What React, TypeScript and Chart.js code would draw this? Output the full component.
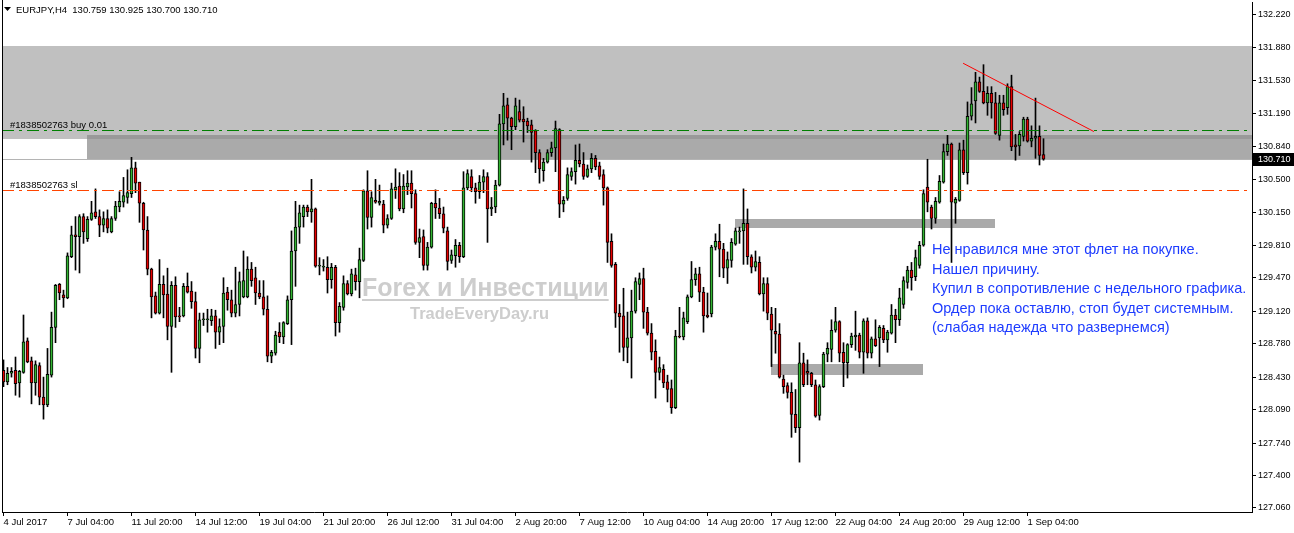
import React, { useEffect, useRef } from 'react';
import { Chart, registerables } from 'chart.js';

Chart.register(...registerables);

// ---------- data (EURJPY H4) ----------
const symbolTitle = 'EURJPY,H4';
const lastQuote = ['130.759', '130.925', '130.700', '130.710'];

const timeLabels = [
  '4 Jul 2017', '7 Jul 04:00', '11 Jul 20:00', '14 Jul 12:00', '19 Jul 04:00', '21 Jul 20:00',
  '26 Jul 12:00', '31 Jul 04:00', '2 Aug 20:00', '7 Aug 12:00', '10 Aug 04:00', '14 Aug 20:00',
  '17 Aug 12:00', '22 Aug 04:00', '24 Aug 20:00', '29 Aug 12:00', '1 Sep 04:00',
];
const barsPerLabel = 16;

const opens = [
  128.50, 128.38, 128.47, 128.50, 128.37, 128.48, 128.81, 128.60, 128.37, 128.55,
  128.22, 128.14, 128.45, 128.95, 129.40, 129.29, 129.26, 129.69, 129.92, 129.90,
  130.11, 129.88, 130.08, 130.16, 130.11, 130.02, 130.09, 129.95, 130.09, 130.21,
  130.26, 130.31, 130.35, 130.62, 130.47, 130.25, 129.97, 129.56, 129.28, 129.10,
  129.40, 129.30, 128.96, 129.39, 129.07, 129.07, 129.38, 129.33, 129.22, 128.73,
  129.03, 129.03, 129.02, 129.07, 128.90, 128.96, 129.32, 129.24, 129.10, 129.19,
  129.27, 129.27, 129.56, 129.47, 129.31, 129.27, 129.14, 128.65, 128.68, 128.90,
  128.85, 128.99, 129.24, 129.75, 130.00, 130.11, 130.21, 130.16, 130.19, 129.59,
  129.58, 129.58, 129.45, 129.58, 129.00, 129.16, 129.41, 129.30, 129.50, 129.43,
  129.65, 130.38, 130.10, 130.28, 130.25, 130.24, 130.02, 130.09, 130.39, 130.43,
  130.19, 130.42, 130.46, 130.35, 129.84, 129.90, 129.60, 129.79, 130.25, 130.20,
  130.14, 129.96, 129.65, 129.70, 129.81, 129.69, 130.41, 130.53, 130.41, 130.37,
  130.47, 130.53, 130.19, 130.21, 130.44, 131.08, 131.28, 131.14, 131.05, 131.21,
  131.13, 131.11, 131.07, 131.01, 130.78, 130.59, 130.68, 130.78, 130.83, 131.02,
  130.24, 130.30, 130.53, 130.58, 130.70, 130.66, 130.53, 130.61, 130.72, 130.64,
  130.55, 130.41, 129.85, 129.61, 129.10, 129.07, 128.74, 128.84, 129.12, 129.40,
  129.46, 129.11, 128.89, 128.70, 128.48, 128.51, 128.38, 128.31, 128.11, 128.86,
  128.85, 129.01, 129.27, 129.45, 129.51, 129.32, 129.08, 129.09, 129.79, 129.85,
  129.77, 129.57, 129.65, 129.82, 129.95, 129.96, 130.04, 129.69, 129.58, 129.63,
  129.30, 129.41, 129.09, 128.91, 128.88, 128.41, 128.34, 128.27, 128.04, 127.90,
  128.58, 128.49, 128.47, 128.35, 128.03, 128.33, 128.67, 128.72, 128.92, 129.01,
  128.69, 128.58, 128.77, 128.85, 128.87, 128.69, 129.02, 128.68, 128.83, 128.84,
  128.94, 128.82, 128.89, 129.08, 129.03, 129.19, 129.42, 129.55, 129.48, 129.60,
  129.81, 130.42, 130.21, 130.09, 130.26, 130.47, 130.79, 130.87, 130.25, 130.28,
  130.81, 130.57, 131.16, 131.32, 131.52, 131.42, 131.30, 131.40, 131.30, 130.96,
  131.30, 131.25, 131.47, 130.86, 130.85, 130.95, 131.13, 130.90, 130.93, 130.95,
  130.759,
];

const highs = [
  128.61, 128.53, 128.53, 128.64, 128.50, 129.08, 128.84, 128.64, 128.60, 128.58,
  128.43, 128.73, 129.11, 129.40, 129.41, 129.34, 129.73, 130.01, 130.11, 130.13,
  130.14, 130.11, 130.27, 130.40, 130.18, 130.16, 130.18, 130.11, 130.27, 130.37,
  130.52, 130.60, 130.73, 130.68, 130.47, 130.26, 130.11, 129.57, 129.32, 129.66,
  129.49, 129.57, 129.43, 129.48, 129.16, 129.41, 129.52, 129.43, 129.32, 129.10,
  129.10, 129.14, 129.14, 129.13, 129.04, 129.47, 129.37, 129.34, 129.58, 129.53,
  129.75, 129.69, 129.63, 129.58, 129.44, 129.44, 129.28, 128.71, 128.91, 129.00,
  129.01, 129.28, 129.96, 130.27, 130.23, 130.23, 130.23, 130.50, 130.20, 129.68,
  129.66, 129.69, 129.62, 129.60, 129.21, 129.49, 129.44, 129.56, 129.57, 129.78,
  130.39, 130.59, 130.37, 130.50, 130.44, 130.28, 130.13, 130.46, 130.61, 130.57,
  130.55, 130.59, 130.59, 130.39, 129.98, 129.97, 129.84, 130.26, 130.39, 130.30,
  130.21, 130.00, 129.76, 129.87, 129.84, 130.58, 130.60, 130.60, 130.46, 130.54,
  130.60, 130.57, 130.31, 130.49, 131.18, 131.40, 131.35, 131.15, 131.35, 131.33,
  131.26, 131.14, 131.12, 131.02, 130.81, 130.72, 130.81, 130.89, 131.11, 131.03,
  130.32, 130.62, 130.62, 130.86, 130.87, 130.78, 130.65, 130.77, 130.75, 130.68,
  130.60, 130.42, 129.93, 129.63, 129.19, 129.36, 129.11, 129.34, 129.47, 129.52,
  129.57, 129.16, 128.99, 128.82, 128.64, 128.56, 128.45, 128.40, 128.92, 129.16,
  129.11, 129.29, 129.64, 129.57, 129.58, 129.37, 129.31, 129.81, 129.93, 130.03,
  129.83, 129.74, 129.88, 129.99, 130.00, 130.40, 130.19, 129.71, 129.75, 129.69,
  129.47, 129.47, 129.16, 129.15, 128.99, 128.45, 128.37, 128.37, 128.30, 128.79,
  128.68, 128.61, 128.48, 128.40, 128.35, 128.69, 128.79, 129.03, 129.16, 129.02,
  128.79, 128.78, 128.89, 129.12, 128.89, 129.04, 129.05, 128.85, 129.03, 128.97,
  128.97, 128.92, 129.19, 129.14, 129.36, 129.48, 129.59, 129.63, 129.76, 129.85,
  130.39, 130.71, 130.23, 130.31, 130.54, 130.87, 130.96, 130.88, 130.31, 130.88,
  130.91, 131.31, 131.46, 131.62, 131.57, 131.70, 131.47, 131.47, 131.41, 131.38,
  131.38, 131.50, 131.59, 130.97, 131.00, 131.15, 131.15, 131.06, 131.35, 131.06,
  130.925,
];

const lows = [
  128.33, 128.35, 128.43, 128.24, 128.22, 128.47, 128.58, 128.15, 128.24, 128.14,
  127.99, 128.12, 128.43, 128.79, 129.24, 129.16, 129.25, 129.68, 129.55, 129.52,
  129.83, 129.85, 130.07, 130.09, 129.90, 129.95, 129.94, 129.94, 130.07, 130.16,
  130.21, 130.25, 130.31, 130.36, 130.05, 129.76, 129.50, 129.05, 129.09, 129.09,
  129.05, 128.82, 128.48, 128.95, 129.01, 129.06, 129.31, 129.15, 128.63, 128.58,
  128.97, 128.90, 128.97, 128.73, 128.77, 128.79, 129.13, 129.06, 129.06, 129.07,
  129.26, 129.26, 129.38, 129.19, 129.25, 129.08, 128.59, 128.58, 128.66, 128.79,
  128.78, 128.98, 128.77, 129.38, 129.83, 130.00, 130.11, 130.05, 129.58, 129.50,
  129.54, 129.31, 129.36, 128.86, 128.90, 129.13, 129.29, 129.28, 129.34, 129.26,
  129.64, 129.98, 130.00, 130.25, 130.23, 129.94, 129.99, 130.08, 130.30, 130.17,
  130.15, 130.34, 130.20, 129.82, 129.68, 129.55, 129.55, 129.78, 130.09, 130.09,
  129.94, 129.55, 129.62, 129.58, 129.63, 129.68, 130.39, 130.37, 130.25, 130.30,
  130.36, 129.84, 130.12, 130.15, 130.43, 130.86, 130.91, 130.81, 131.02, 131.10,
  130.89, 130.99, 130.68, 130.57, 130.46, 130.48, 130.67, 130.74, 130.58, 130.10,
  130.16, 130.28, 130.49, 130.45, 130.63, 130.50, 130.52, 130.57, 130.60, 130.50,
  130.23, 129.63, 129.58, 128.95, 128.69, 128.60, 128.58, 128.42, 129.10, 129.24,
  128.94, 128.87, 128.61, 128.21, 128.40, 128.32, 128.17, 128.05, 128.10, 128.84,
  128.82, 128.99, 129.26, 129.39, 129.22, 128.90, 129.05, 129.06, 129.76, 129.48,
  129.47, 129.41, 129.58, 129.81, 129.83, 129.61, 129.61, 129.52, 129.54, 129.29,
  129.12, 129.03, 128.54, 128.68, 128.42, 128.26, 128.21, 127.80, 127.85, 127.54,
  128.33, 128.35, 128.33, 128.01, 127.98, 128.32, 128.59, 128.59, 128.90, 128.59,
  128.33, 128.42, 128.74, 128.71, 128.63, 128.47, 128.63, 128.63, 128.75, 128.54,
  128.79, 128.69, 128.88, 128.79, 128.97, 129.15, 129.36, 129.34, 129.44, 129.57,
  129.80, 130.16, 129.98, 130.04, 130.25, 130.46, 130.75, 129.63, 130.04, 130.27,
  130.55, 130.45, 131.12, 131.09, 131.41, 131.29, 131.17, 131.14, 130.97, 130.91,
  131.17, 131.18, 130.80, 130.70, 130.75, 130.90, 130.89, 130.84, 130.72, 130.65,
  130.700,
];

const closes = [
  128.38, 128.47, 128.49, 128.36, 128.49, 128.80, 128.59, 128.37, 128.56, 128.22,
  128.14, 128.46, 128.95, 129.39, 129.31, 129.26, 129.70, 129.92, 129.90, 130.11,
  129.95, 130.08, 130.15, 130.11, 130.02, 130.09, 129.99, 130.09, 130.22, 130.27,
  130.33, 130.36, 130.62, 130.46, 130.25, 129.97, 129.56, 129.27, 129.10, 129.40,
  129.29, 128.96, 129.39, 129.06, 129.06, 129.38, 129.32, 129.22, 128.73, 129.03,
  129.04, 129.04, 129.07, 128.90, 128.96, 129.31, 129.24, 129.10, 129.19, 129.43,
  129.44, 129.56, 129.44, 129.31, 129.27, 129.14, 128.65, 128.69, 128.87, 128.85,
  129.00, 129.24, 129.75, 130.00, 130.15, 130.21, 130.16, 130.19, 129.59, 129.60,
  129.59, 129.45, 129.58, 129.00, 129.17, 129.41, 129.30, 129.51, 129.43, 129.66,
  130.38, 130.10, 130.31, 130.26, 130.27, 130.02, 130.09, 130.40, 130.42, 130.19,
  130.43, 130.46, 130.35, 129.84, 129.89, 129.60, 129.79, 130.25, 130.20, 130.14,
  129.99, 129.64, 129.71, 129.81, 129.69, 130.41, 130.56, 130.41, 130.37, 130.47,
  130.53, 130.19, 130.21, 130.44, 131.08, 131.27, 131.14, 131.05, 131.27, 131.12,
  131.10, 131.06, 130.99, 130.78, 130.61, 130.68, 130.78, 130.83, 131.03, 130.24,
  130.28, 130.55, 130.58, 130.70, 130.66, 130.53, 130.61, 130.72, 130.63, 130.53,
  130.41, 129.84, 129.60, 129.10, 129.06, 128.74, 128.84, 129.12, 129.43, 129.46,
  129.11, 128.89, 128.69, 128.48, 128.53, 128.37, 128.30, 128.11, 128.86, 128.85,
  129.05, 129.27, 129.45, 129.51, 129.32, 129.07, 129.06, 129.79, 129.85, 129.77,
  129.57, 129.66, 129.84, 129.96, 129.96, 130.04, 129.69, 129.58, 129.64, 129.30,
  129.41, 129.10, 128.92, 128.88, 128.43, 128.33, 128.27, 128.04, 127.90, 128.58,
  128.35, 128.47, 128.35, 128.02, 128.33, 128.67, 128.73, 128.92, 129.01, 128.68,
  128.58, 128.77, 128.86, 128.87, 128.69, 129.02, 128.68, 128.83, 128.76, 128.95,
  128.82, 128.90, 129.08, 129.03, 129.26, 129.44, 129.55, 129.47, 129.68, 129.81,
  130.35, 130.26, 130.09, 130.27, 130.48, 130.79, 130.87, 130.26, 130.29, 130.81,
  130.57, 131.16, 131.29, 131.52, 131.42, 131.30, 131.40, 131.30, 130.98, 131.30,
  131.23, 131.47, 130.84, 130.84, 130.97, 131.13, 130.90, 130.93, 130.95, 130.75,
  130.710,
];

const priceTicks = [
  132.22, 131.88, 131.53, 131.19, 130.84, 130.5, 130.15, 129.81,
  129.47, 129.12, 128.78, 128.43, 128.09, 127.74, 127.4, 127.06,
];

const orderTicket = '#1838502763';
const orderVolume = '0.01';
const buyPrice = 131.016;
const stopLossPrice = 130.388;
const bidPrice = 130.71;

// chart objects, in bar-index / price units
const zones = [
  { from: null, to: null, high: 131.896, low: 130.922, color: '#c0c0c0' },
  { from: 20.875, to: null, high: 130.964, low: 130.706, color: '#aaaaaa' },
  { from: 182.9, to: 247.9, high: 130.085, low: 129.99, color: '#aaaaaa' },
  { from: 191.9, to: 229.9, high: 128.567, low: 128.452, color: '#aaaaaa' },
];
const trendLine = { from: 239.9, to: 272.6, start: 131.715, end: 131.0 };

const noteLines = [
  'Не нравился мне этот флет на покупке.',
  'Нашел причину.',
  'Купил в сопротивление с недельного графика.',
  'Ордер пока оставлю, стоп будет системным.',
  '(слабая надежда что развернемся)',
];
const watermarkTitle = 'Forex и Инвестиции';
const watermarkSite = 'TradeEveryDay.ru';

// ---------- styles ----------
const FONT = '"Liberation Sans", Arial, sans-serif';
const BULL = '#32b432';
const BEAR = '#e60000';

const overlay = {
  id: 'mt4Overlay',
  beforeDatasetsDraw(chart: any) {
    const { ctx, chartArea: a, scales } = chart;
    const x = scales.x;
    const y = scales.y;
    ctx.save();
    ctx.beginPath();
    ctx.rect(a.left, a.top, a.right - a.left, a.bottom - a.top);
    ctx.clip();

    // watermark
    ctx.fillStyle = '#cdcdcd';
    ctx.textBaseline = 'alphabetic';
    ctx.textAlign = 'left';
    ctx.font = `bold 25px ${FONT}`;
    ctx.fillText(watermarkTitle, 362, 296);
    const w = ctx.measureText(watermarkTitle).width;
    ctx.fillRect(362, 299, w, 2);
    ctx.font = `bold 16.5px ${FONT}`;
    ctx.fillText(watermarkSite, 410, 319);

    const rects = zones.map((z) => {
      const x0 = Math.round(z.from == null ? a.left : x.getPixelForValue(z.from));
      const x1 = Math.round(z.to == null ? a.right : x.getPixelForValue(z.to));
      const y0 = Math.round(y.getPixelForValue(z.high));
      const y1 = Math.round(y.getPixelForValue(z.low));
      return { x0, x1, y0, y1, color: z.color };
    });
    rects.forEach((r) => {
      ctx.fillStyle = r.color;
      ctx.fillRect(r.x0, r.y0, r.x1 - r.x0, r.y1 - r.y0);
    });
    // overlap of the two top zones is darker
    const r0 = rects[0];
    const r1 = rects[1];
    const ox0 = Math.max(r0.x0, r1.x0);
    const ox1 = Math.min(r0.x1, r1.x1);
    const oy0 = Math.max(r0.y0, r1.y0);
    const oy1 = Math.min(r0.y1, r1.y1);
    if (ox1 > ox0 && oy1 > oy0) {
      ctx.fillStyle = '#999999';
      ctx.fillRect(ox0, oy0, ox1 - ox0, oy1 - oy0);
    }

    // bid line
    const by = Math.round(y.getPixelForValue(bidPrice)) + 0.5;
    ctx.strokeStyle = '#b4b4b4';
    ctx.lineWidth = 1;
    ctx.beginPath();
    ctx.moveTo(a.left, by);
    ctx.lineTo(a.right, by);
    ctx.stroke();
    ctx.restore();
  },
  afterDatasetsDraw(chart: any) {
    const { ctx, chartArea: a, scales } = chart;
    const x = scales.x;
    const y = scales.y;
    ctx.save();
    ctx.beginPath();
    ctx.rect(a.left, a.top, a.right - a.left, a.bottom - a.top);
    ctx.clip();
    const hline = (price: number, color: string) => {
      const py = Math.round(y.getPixelForValue(price)) + 0.5;
      ctx.strokeStyle = color;
      ctx.lineWidth = 1;
      ctx.setLineDash([12, 5, 3, 5]);
      ctx.beginPath();
      ctx.moveTo(a.left, py);
      ctx.lineTo(a.right, py);
      ctx.stroke();
      ctx.setLineDash([]);
    };
    hline(buyPrice, '#008000');
    hline(stopLossPrice, '#ff4500');

    // trend line
    ctx.strokeStyle = '#ff0000';
    ctx.lineWidth = 1;
    ctx.beginPath();
    ctx.moveTo(x.getPixelForValue(trendLine.from), y.getPixelForValue(trendLine.start));
    ctx.lineTo(x.getPixelForValue(trendLine.to), y.getPixelForValue(trendLine.end));
    ctx.stroke();

    // order labels
    ctx.fillStyle = '#000';
    ctx.font = `9.5px ${FONT}`;
    ctx.textAlign = 'left';
    ctx.textBaseline = 'alphabetic';
    ctx.fillText(`${orderTicket} buy ${orderVolume}`, 10, Math.round(y.getPixelForValue(buyPrice)) - 2);
    ctx.fillText(`${orderTicket} sl`, 10, Math.round(y.getPixelForValue(stopLossPrice)) - 2);

    // notes
    ctx.fillStyle = '#1e3cff';
    ctx.font = `14.5px ${FONT}`;
    ctx.textBaseline = 'middle';
    const noteY = [250, 270, 289, 309, 328];
    noteLines.forEach((t, i) => ctx.fillText(t, 932, noteY[i]));
    ctx.restore();
  },
  afterDraw(chart: any) {
    const { ctx, chartArea: a, scales } = chart;
    const y = scales.y;
    ctx.save();
    // left frame line
    ctx.fillStyle = '#000';
    ctx.fillRect(a.left, 0, 1, a.bottom);
    // header
    ctx.beginPath();
    ctx.moveTo(4, 7);
    ctx.lineTo(11, 7);
    ctx.lineTo(7.5, 11);
    ctx.closePath();
    ctx.fill();
    ctx.font = `9.5px ${FONT}`;
    ctx.textAlign = 'left';
    ctx.textBaseline = 'middle';
    ctx.fillText(`${symbolTitle}  ${lastQuote.join(' ')}`, 16, 10);
    // current price tag
    const py = Math.round(y.getPixelForValue(bidPrice));
    ctx.fillStyle = '#000';
    ctx.fillRect(a.right + 1, py - 6, 42, 13);
    ctx.fillStyle = '#fff';
    ctx.font = `9px ${FONT}`;
    ctx.fillText(bidPrice.toFixed(3), a.right + 6, py + 0.5);
    ctx.restore();
  },
};

export default function App() {
  const ref = useRef<HTMLCanvasElement>(null);
  useEffect(() => {
    document.body.style.margin = '0';
    const canvas = ref.current;
    if (!canvas) return;
    const idx = closes.map((_, i) => i);
    const chart = new Chart(canvas, {
      type: 'bar',
      data: {
        datasets: [
          {
            label: 'body',
            data: idx.map((i) => ({ x: i, y: [opens[i], closes[i]] })) as any,
            backgroundColor: idx.map((i) => (closes[i] >= opens[i] ? BULL : BEAR)),
            borderColor: '#000',
            borderWidth: 1,
            borderSkipped: false,
            barThickness: 3,
            minBarLength: 1,
            grouped: false,
            order: 0,
          } as any,
          {
            label: 'wick',
            data: idx.map((i) => ({ x: i, y: [lows[i], highs[i]] })) as any,
            backgroundColor: '#000',
            borderWidth: 0,
            barThickness: 1,
            grouped: false,
            order: 1,
          } as any,
        ],
      },
      options: {
        animation: false,
        responsive: false,
        devicePixelRatio: 1,
        layout: { padding: { left: 2, top: 2, right: 0, bottom: 0 } },
        plugins: { legend: { display: false }, tooltip: { enabled: false } },
        scales: {
          x: {
            type: 'linear',
            min: -0.375,
            max: 312.125,
            offset: false,
            grid: { drawOnChartArea: false, drawTicks: true, tickLength: 4, color: '#000', offset: false },
            border: { display: true, color: '#000' },
            ticks: {
              autoSkip: false,
              maxRotation: 0,
              minRotation: 0,
              align: 'start',
              padding: 1,
              color: '#000',
              font: { family: FONT, size: 9.5 },
              callback: (v: any) => timeLabels[Math.round(Number(v) / barsPerLabel)] ?? '',
            },
            afterBuildTicks: (s: any) => {
              s.ticks = timeLabels.map((_, k) => ({ value: k * barsPerLabel }));
            },
            afterFit: (s: any) => {
              s.height = 21;
              s.paddingLeft = 0;
              s.paddingRight = 0;
            },
          } as any,
          y: {
            type: 'linear',
            position: 'right',
            min: 127.018,
            max: 132.356,
            grid: { drawOnChartArea: false, drawTicks: true, tickLength: 4, color: '#000' },
            border: { display: true, color: '#000' },
            ticks: {
              padding: 2,
              color: '#000',
              font: { family: FONT, size: 9 },
              callback: (v: any) => Number(v).toFixed(3),
            },
            afterBuildTicks: (s: any) => {
              s.ticks = priceTicks.map((v) => ({ value: v }));
            },
            afterFit: (s: any) => {
              s.width = 42;
              s.paddingTop = 0;
              s.paddingBottom = 0;
            },
          } as any,
        },
      },
      plugins: [overlay],
    });
    return () => chart.destroy();
  }, []);
  return (
    <div style={{ width: 1294, height: 533 }}>
      <canvas ref={ref} width={1294} height={533} style={{ display: 'block' }} />
    </div>
  );
}
